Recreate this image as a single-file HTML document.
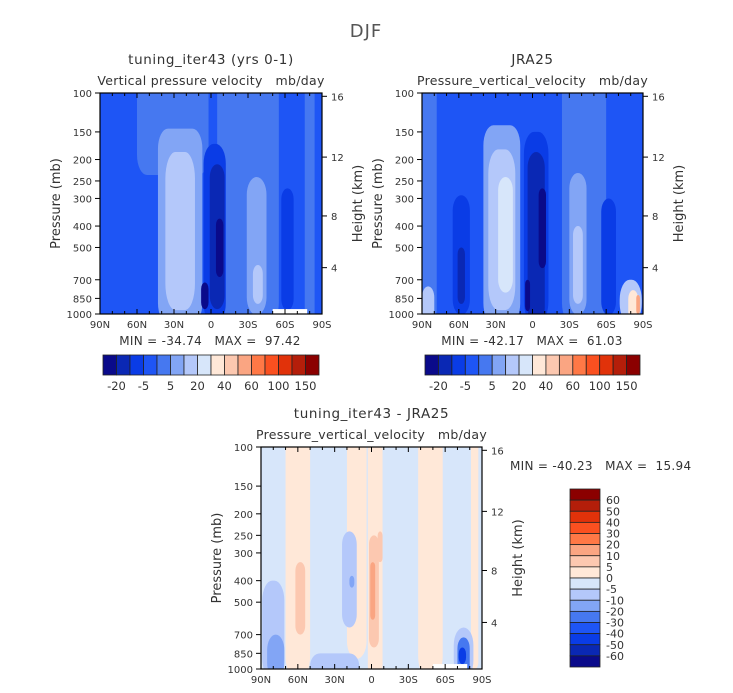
<!DOCTYPE html>
<html><head><meta charset="utf-8"><style>
html,body{margin:0;background:#fff;width:733px;height:693px;overflow:hidden}
svg{display:block;font-family:"DejaVu Sans","Liberation Sans",sans-serif;fill:#333}
text{white-space:pre}
</style></head><body>
<svg id="s" width="733" height="693" viewBox="0 0 733 693" xmlns="http://www.w3.org/2000/svg">
<text x="366" y="37" text-anchor="middle" font-size="18" fill="#555" letter-spacing="1">DJF</text>
</svg>
<script>
const colors=["#0a0a8a","#0a28b4","#0a3ce6","#1e55f5","#4678f0","#82a5f5","#b4c8fa","#d7e6fa","#ffe8d8","#fcc8b0","#faa582","#ff7846","#fa5020","#e1320a","#b41e0a","#8b0000"];
const latTicks=[90,60,30,0,-30,-60,-90];
const latLabels=["90N","60N","30N","0","30S","60S","90S"];
const presTicks=[100,150,200,250,300,400,500,700,850,1000];
const heightTicks=[4,8,12,16];
const heightPres=[617,360,195,103.5];
const topCbLabels=["-20","-5","5","20","40","60","100","150"];
const diffCbLabels=["60","50","40","30","20","10","5","0","-5","-10","-20","-30","-40","-50","-60"];
// blobs: [lat center, lat half-width, p top, p bottom, colour level]
const modelBg=3;
const modelBlobs=[[31,29,80,235,4],[-30,25,80,1100,4],[25,18,145,1100,5],[25,12,185,960,6],[-3,9,170,1100,2],[-5,6,210,950,1],[-7,3,370,680,0],[5,3,720,950,0],[-37,8,240,1010,5],[-38,4,600,900,6],[-62,5,270,960,2],[-80,4,80,1100,4]];
const obsBg=3;
const obsBlobs=[[84,6,80,1100,4],[-42,18,80,1100,4],[25,15,140,1100,5],[25,11,180,960,6],[22,6,240,800,7],[-3,10,150,1100,2],[-3,7,185,1100,1],[-8,3,270,620,0],[4,2,700,970,0],[-37,7,230,1010,5],[-37,4,400,900,6],[58,7,290,1010,2],[58,3,500,900,1],[-62,6,300,1010,2],[-80,9,700,1100,6],[85,5,750,1100,6],[-82,4,780,1100,8],[-86,1.5,820,1000,10]];
const diffBg=7;
const diffBlobs=[[60,10,80,1100,8],[12,8,80,900,8],[-3,6,80,1100,8],[-48,10,80,1100,8],[-84,3,80,1000,8],[58,4,330,700,9],[-2,4,250,800,9],[-7,2,240,330,9],[-1,2,330,600,10],[18,6,240,650,6],[16,2,380,430,5],[80,9,400,1100,6],[78,7,700,1100,5],[30,20,850,1100,6],[-75,8,650,1100,6],[-75,5,720,1100,4],[-74,3,800,950,2]];
const svg=document.getElementById('s');
const NS="http://www.w3.org/2000/svg";
function mk(tag,attrs,parent){const e=document.createElementNS(NS,tag);for(const k in attrs)e.setAttribute(k,attrs[k]);(parent||svg).appendChild(e);return e;}
function panel(id,x0,y0,w,h,bg,blobs,title,sub,minmax,missing){
  const xs=lat=>x0+(90-lat)/180*w;
  const ys=p=>y0+Math.log10(p/100)*h;
  const g=mk('g',{});
  
  
  const cp=mk('clipPath',{id:id+'clip'},g);mk('rect',{x:x0,y:y0,width:w,height:h},cp);
  const f=mk('g',{'clip-path':'url(#'+id+'clip)'},g);
  const bgr=mk('rect',{x:x0,y:y0,width:w,height:h,fill:colors[bg]},f);
  
  
  blobs.forEach(b=>{
    const x1=xs(b[0]+b[1]),x2=xs(b[0]-b[1]),y1=ys(b[2]),y2=ys(b[3]);
    const bw=x2-x1,bh=y2-y1;
    const r=mk('rect',{x:x1,y:y1,width:bw,height:bh,rx:Math.min(bw/2,10),ry:Math.min(bh/2,bw<30?bw*0.9:20),fill:colors[b[4]]},f);
    
    
  });
  if(missing){const m=mk('rect',{x:xs(-50),y:ys(950),width:xs(-78)-xs(-50),height:ys(1000)-ys(950),fill:'#fff'},f);
    }
  mk('rect',{x:x0,y:y0,width:w,height:h,fill:'none',stroke:'#000','stroke-width':1.2},g);
  for(let l=90;l>=-90;l-=10){const x=xs(l);const maj=l%30===0;
    mk('line',{x1:x,x2:x,y1:y0+h,y2:y0+h-(maj?5:3),stroke:'#000'},g);
    mk('line',{x1:x,x2:x,y1:y0,y2:y0+(maj?5:3),stroke:'#000'},g);}
  latTicks.forEach((l,i)=>{const t=mk('text',{x:xs(l),y:y0+h+14,'text-anchor':'middle','font-size':10},g);t.textContent=latLabels[i];
    });
  presTicks.forEach(p=>{const y=ys(p);mk('line',{x1:x0-5,x2:x0,y1:y,y2:y,stroke:'#000'},g);
    const t=mk('text',{x:x0-8,y:y+4,'text-anchor':'end','font-size':10},g);t.textContent=p;
    });
  heightTicks.forEach((hk,i)=>{const y=ys(heightPres[i]);mk('line',{x1:x0+w,x2:x0+w+5,y1:y,y2:y,stroke:'#000'},g);
    const t=mk('text',{x:x0+w+9,y:y+4,'font-size':10},g);t.textContent=hk;
    });
  const yt=mk('text',{transform:`translate(${x0-40},${y0+h/2}) rotate(-90)`,'text-anchor':'middle','font-size':13},g);yt.textContent='Pressure (mb)';
  
  const ht=mk('text',{transform:`translate(${x0+w+40},${y0+h/2}) rotate(-90)`,'text-anchor':'middle','font-size':13},g);ht.textContent='Height (km)';
  
  const tt=mk('text',{x:x0+w/2,y:y0-29,'text-anchor':'middle','font-size':13.5,'letter-spacing':0.6},g);tt.textContent=title;
  
  const st=mk('text',{x:x0+w/2,y:y0-8,'text-anchor':'middle','font-size':12.5,'letter-spacing':0.3},g);st.textContent=sub;
  
  if(minmax){const mt=mk('text',{x:minmax[0],y:minmax[1],'text-anchor':minmax[3]||'middle','font-size':12,'letter-spacing':0.3},g);mt.textContent=minmax[2];
    }
}
function hbar(id,x0,y0,w,h){
  const bw=w/16;
  colors.forEach((c,i)=>{const r=mk('rect',{x:x0+i*bw,y:y0,width:bw,height:h,fill:c,stroke:'#222','stroke-width':0.8});
    });
  topCbLabels.forEach((l,i)=>{const t=mk('text',{x:x0+(2*i+1)*bw,y:y0+h+15,'text-anchor':'middle','font-size':11.5});t.textContent=l;
    });
}
panel('model',100,93,222,221,modelBg,modelBlobs,'tuning_iter43 (yrs 0-1)','Vertical pressure velocity   mb/day',[210,345,'MIN = -34.74   MAX =  97.42'],true);
panel('obs',422,93,221,221,obsBg,obsBlobs,'JRA25','Pressure_vertical_velocity   mb/day',[532,345,'MIN = -42.17   MAX =  61.03'],false);
panel('diff',261,447,221,222,diffBg,diffBlobs,'tuning_iter43 - JRA25','Pressure_vertical_velocity   mb/day',[510,470,'MIN = -40.23   MAX =  15.94','start'],true);
hbar('model-colorbar',103,355,216,20);
hbar('obs-colorbar',425,355,215,20);
const bh=(667-489)/16;
colors.slice().reverse().forEach((c,i)=>{const r=mk('rect',{x:570,y:489+i*bh,width:30,height:bh,fill:c,stroke:'#222','stroke-width':0.8});
  });
diffCbLabels.forEach((l,i)=>{const t=mk('text',{x:606,y:489+(i+1)*bh+4,'font-size':11});t.textContent=l;
  });
</script>
</body></html>
